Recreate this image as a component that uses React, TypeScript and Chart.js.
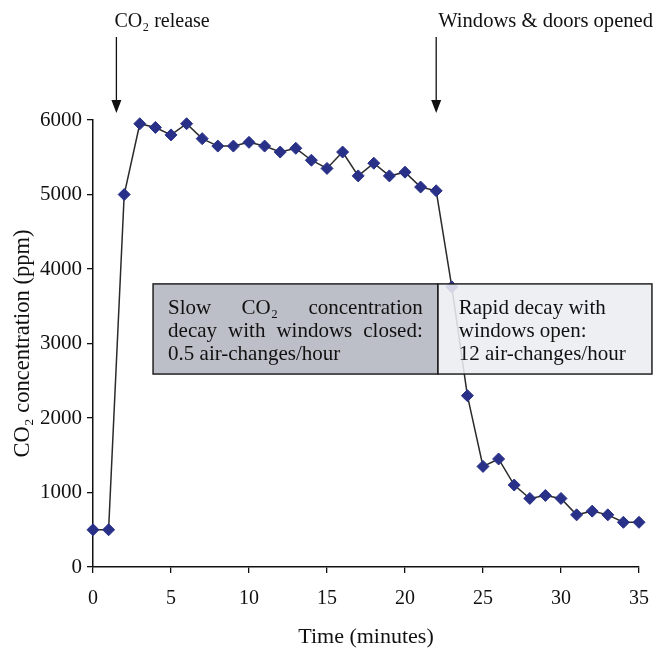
import React, { useEffect, useRef } from "react";
import { Chart, registerables } from "chart.js";

Chart.register(...registerables);

const times: number[] = Array.from({ length: 36 }, (_, i) => i);
const co2Values: number[] = [
  500, 500, 5000, 5950, 5900, 5800, 5950, 5750, 5650, 5650, 5700, 5650, 5570, 5620,
  5460, 5350, 5570, 5250, 5420, 5250, 5300, 5100, 5050, 3760, 2300, 1350, 1450, 1100,
  920, 960, 920, 700, 750, 700, 600, 600,
];
const xTicks: number[] = [0, 5, 10, 15, 20, 25, 30, 35];
const yTicks: number[] = [0, 1000, 2000, 3000, 4000, 5000, 6000];
const eventTimes: number[] = [1.5, 22];
const eventLabels: string[] = ["CO₂ release", "Windows & doors opened"];
const boxLeftLines: string[][] = [
  ["Slow", "CO₂", "concentration"],
  ["decay", "with", "windows", "closed:"],
  ["0.5 air-changes/hour"],
];
const boxRightLines: string[] = ["Rapid decay with", "windows open:", "12 air-changes/hour"];
const boxX: number[] = [3.85, 22.1, 35.83];
const boxY: number[] = [3800, 2590];

const FONT = "'Liberation Serif', 'Times New Roman', serif";

const overlayPlugin = {
  id: "overlay",
  afterDatasetsDraw(chart: any) {
    const ctx = chart.ctx as CanvasRenderingContext2D;
    const xs = chart.scales.x;
    const ys = chart.scales.y;
    ctx.save();
    const x0 = xs.getPixelForValue(boxX[0]);
    const x1 = xs.getPixelForValue(boxX[1]);
    const x2 = xs.getPixelForValue(boxX[2]);
    const yTop = ys.getPixelForValue(boxY[0]);
    const yBot = ys.getPixelForValue(boxY[1]);
    ctx.globalAlpha = 0.88;
    ctx.fillStyle = "#b4b6c0";
    ctx.fillRect(x0, yTop, x1 - x0, yBot - yTop);
    ctx.fillStyle = "#ecedf1";
    ctx.fillRect(x1, yTop, x2 - x1, yBot - yTop);
    ctx.globalAlpha = 1;
    ctx.strokeStyle = "#222";
    ctx.lineWidth = 1.5;
    ctx.strokeRect(x0, yTop, x1 - x0, yBot - yTop);
    ctx.strokeRect(x1, yTop, x2 - x1, yBot - yTop);

    ctx.fillStyle = "#111";
    ctx.font = `21px ${FONT}`;
    ctx.textBaseline = "alphabetic";
    const lineH = 23;
    const padL = 15;
    const textLeft = x0 + padL;
    const textRight = x1 - padL;
    boxLeftLines.forEach((words, i) => {
      const y = yTop + 30 + i * lineH;
      ctx.textAlign = "left";
      if (words.length === 1) {
        ctx.fillText(words[0], textLeft, y);
      } else {
        const widths = words.map((w) => ctx.measureText(w).width);
        const total = widths.reduce((a, b) => a + b, 0);
        const gap = (textRight - textLeft - total) / (words.length - 1);
        let cx = textLeft;
        words.forEach((w, j) => {
          ctx.fillText(w, cx, y);
          cx += widths[j] + gap;
        });
      }
    });
    ctx.textAlign = "left";
    boxRightLines.forEach((t, i) => {
      ctx.fillText(t, x1 + 21, yTop + 30 + i * lineH);
    });
    ctx.restore();
  },
  afterDraw(chart: any) {
    const ctx = chart.ctx as CanvasRenderingContext2D;
    const xs = chart.scales.x;
    ctx.save();
    ctx.fillStyle = "#111";
    ctx.strokeStyle = "#111";
    ctx.lineWidth = 1.3;
    ctx.textBaseline = "alphabetic";
    ctx.textAlign = "left";
    eventTimes.forEach((t, i) => {
      const px = xs.getPixelForValue(t);
      ctx.beginPath();
      ctx.moveTo(px, 37);
      ctx.lineTo(px, 102);
      ctx.stroke();
      ctx.beginPath();
      ctx.moveTo(px - 5, 100);
      ctx.lineTo(px + 5, 100);
      ctx.lineTo(px, 113);
      ctx.closePath();
      ctx.fill();
      ctx.font = i === 0 ? `20px ${FONT}` : `20.6px ${FONT}`;
      ctx.fillText(eventLabels[i], i === 0 ? px - 2 : px + 2, 27);
    });
    ctx.restore();
  },
};

export default function App() {
  const canvasRef = useRef<HTMLCanvasElement | null>(null);

  useEffect(() => {
    if (!canvasRef.current) return;
    const chart = new Chart(canvasRef.current, {
      type: "line",
      data: {
        datasets: [
          {
            data: times.map((t, i) => ({ x: t, y: co2Values[i] })),
            borderColor: "#2a2a2a",
            borderWidth: 1.5,
            pointStyle: "rectRot",
            pointRadius: 6,
            pointBorderWidth: 1,
            pointBackgroundColor: "#283088",
            pointBorderColor: "#283088",
            tension: 0,
            clip: false as any,
          },
        ],
      },
      options: {
        responsive: false,
        animation: false,
        layout: { padding: { left: 0, right: 17, top: 120, bottom: 0 } },
        plugins: {
          legend: { display: false },
          tooltip: { enabled: false },
        },
        scales: {
          x: {
            type: "linear",
            min: 0,
            max: 35,
            afterBuildTicks: (s: any) => {
              s.ticks = xTicks.map((v) => ({ value: v }));
            },
            afterFit: (s: any) => {
              s.height = 83;
              s.paddingRight = 0;
              s.paddingLeft = 0;
            },
            grid: {
              display: true,
              drawOnChartArea: false,
              drawTicks: true,
              tickLength: 6,
              color: "#111",
              lineWidth: 1.3,
            },
            border: { display: true, color: "#111", width: 1.5 },
            ticks: {
              color: "#111",
              font: { family: FONT, size: 20 },
              padding: 14,
              maxRotation: 0,
              callback: (v: any) => String(v),
            },
            title: {
              display: true,
              text: "Time (minutes)",
              color: "#111",
              font: { family: FONT, size: 22 },
              padding: { top: 0, bottom: 0 },
            },
          },
          y: {
            type: "linear",
            min: 0,
            max: 6000,
            afterBuildTicks: (s: any) => {
              s.ticks = yTicks.map((v) => ({ value: v }));
            },
            afterFit: (s: any) => {
              s.width = 93;
            },
            grid: {
              display: true,
              drawOnChartArea: false,
              drawTicks: true,
              tickLength: 6,
              color: "#111",
              lineWidth: 1.3,
            },
            border: { display: true, color: "#111", width: 1.5 },
            ticks: {
              color: "#111",
              font: { family: FONT, size: 21 },
              padding: 5,
              callback: (v: any) => String(v),
            },
            title: {
              display: true,
              text: "CO₂ concentration (ppm)",
              color: "#111",
              font: { family: FONT, size: 22.5 },
              padding: { top: 10, bottom: 0 },
            },
          },
        },
      },
      plugins: [overlayPlugin],
    });
    return () => chart.destroy();
  }, []);

  return (
    <div style={{ position: "fixed", left: 0, top: 0, width: 656, height: 650, background: "#fff" }}>
      <canvas ref={canvasRef} width={656} height={650} style={{ width: 656, height: 650 }} />
    </div>
  );
}
